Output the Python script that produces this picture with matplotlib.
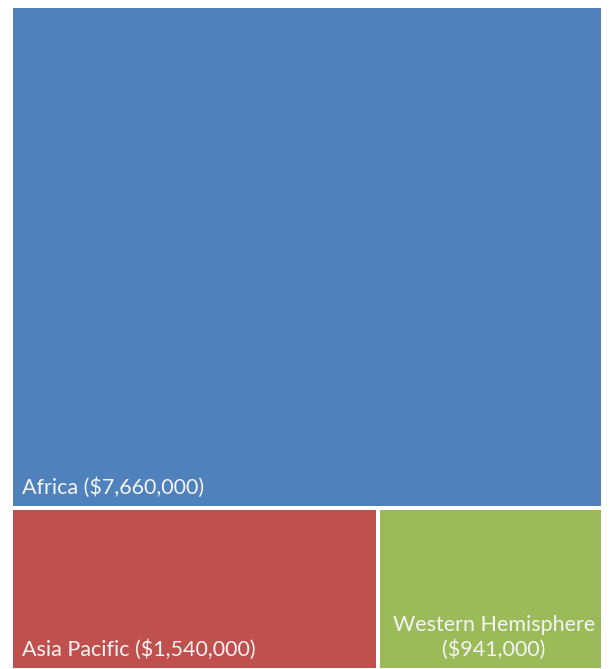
import matplotlib
matplotlib.use("Agg")
import matplotlib.pyplot as plt
from matplotlib.patches import Rectangle

W, H = 610, 669
DPI = 100

regions = ["Africa", "Asia Pacific", "Western Hemisphere"]
funding = [7660000, 1540000, 941000]
colors = ["#4F81BD", "#C0504D", "#9BBB59"]

FONT = "Lato"
FS = 15.5
GAP = 2  # half of the white gap, px

fig = plt.figure(figsize=(W / DPI, H / DPI), dpi=DPI)
fig.patch.set_facecolor("white")

# plot area in pixels
left, right, top, bottom = 13, 601, 8, 668
ax = fig.add_axes([(left - GAP) / W, (H - bottom - GAP) / H,
                   (right - left + 2 * GAP) / W, (bottom - top + 2 * GAP) / H])
aw, ah = right - left + 2 * GAP, bottom - top + 2 * GAP
ax.set_xlim(0, aw)
ax.set_ylim(0, ah)
ax.axis("off")

total = sum(funding)
# slice layout: biggest on top across the full width, the rest side by side below
top_h = ah * funding[0] / total
rest = sum(funding[1:])
rects = [(0, ah - top_h, aw, top_h)]
x = 0
for v in funding[1:]:
    w = aw * v / rest
    rects.append((x, 0, w, ah - top_h))
    x += w

for (rx, ry, rw, rh), c in zip(rects, colors):
    ax.add_patch(Rectangle((rx + GAP, ry + GAP), rw - 2 * GAP, rh - 2 * GAP,
                           facecolor=c, edgecolor="none"))

def money(v):
    return f"(${v:,})"

txt = dict(color="#F4F4F4", fontsize=FS, family=FONT)
# Africa, Asia Pacific: bottom-left; Western Hemisphere: centered, two lines
for i in range(2):
    rx, ry, rw, rh = rects[i]
    ax.text(rx + GAP + 9, ry + GAP + 8, f"{regions[i]} {money(funding[i])}",
            ha="left", va="bottom", **txt)
rx, ry, rw, rh = rects[2]
ax.text(rx + rw / 2 + 3, ry + GAP + 8, f"{regions[2]}\n{money(funding[2])}",
        ha="center", va="bottom", multialignment="center", linespacing=1.25, **txt)

fig.savefig("out.png", dpi=DPI)
